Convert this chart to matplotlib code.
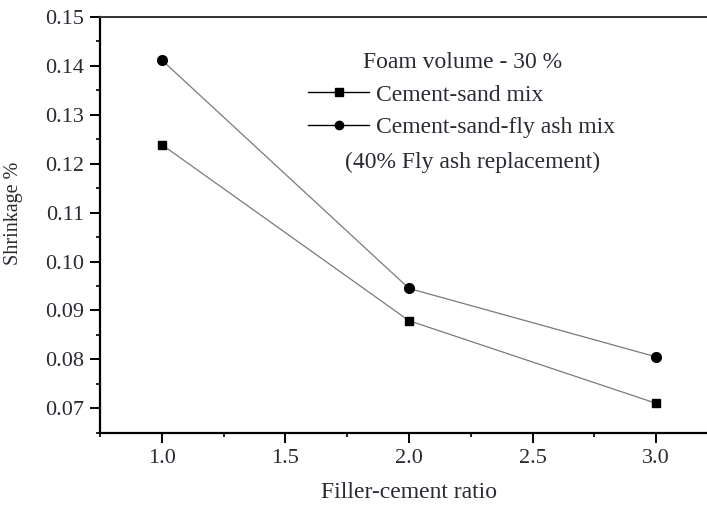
import matplotlib
matplotlib.use("Agg")
import matplotlib.pyplot as plt
from matplotlib.lines import Line2D
from matplotlib.ticker import MultipleLocator, FormatStrFormatter

ratio = [1.0, 2.0, 3.0]
cement_sand = [0.1239, 0.0879, 0.0710]
cement_sand_flyash = [0.1412, 0.0945, 0.0805]

label_cs = "Cement-sand mix"
label_fa = "Cement-sand-fly ash mix"
legend_title = "Foam volume - 30 %"
legend_note = "(40% Fly ash replacement)"
xlabel = "Filler-cement ratio"
ylabel = "Shrinkage %"

plt.rcParams['font.family'] = ['Liberation Serif', 'DejaVu Serif']

W, H = 707, 509
fig = plt.figure(figsize=(W / 100, H / 100), dpi=100)
left, right, top, bottom = 100, 718, 17, 432.7
ax = fig.add_axes([left / W, 1 - bottom / H, (right - left) / W, (bottom - top) / H])

line_col = '#7a7a7a'
ax.plot(ratio, cement_sand, color=line_col, lw=0.9, marker='s', ms=6.3,
        mfc='black', mec='black', zorder=3)
ax.plot(ratio, cement_sand_flyash, color=line_col, lw=0.9, marker='o', ms=7.0,
        mfc='black', mec='black', zorder=3)

ax.set_xlim(0.75, 3.25)
ax.set_ylim(0.065, 0.15)
ax.xaxis.set_major_locator(MultipleLocator(0.5))
ax.xaxis.set_minor_locator(MultipleLocator(0.25))
ax.yaxis.set_major_locator(MultipleLocator(0.01))
ax.yaxis.set_minor_locator(MultipleLocator(0.005))
ax.xaxis.set_major_formatter(FormatStrFormatter('%.1f'))
ax.yaxis.set_major_formatter(FormatStrFormatter('%.2f'))

for s in ['left', 'bottom']:
    ax.spines[s].set_linewidth(1.6)
ax.spines['top'].set_linewidth(1.4)
ax.spines['top'].set_color('#333333')
ax.spines['right'].set_visible(False)

ax.tick_params(which='major', direction='out', length=7.5, width=1.4,
               labelsize=16, pad=4, labelcolor='#2a2a33', top=False, right=False)
ax.tick_params(which='minor', direction='out', length=3, width=1.2, top=False, right=False)

def fx(px):
    return (px - left) / (right - left)
def fy(py):
    return 1 - (py - top) / (bottom - top)

ax.set_xlabel(xlabel, fontsize=17, labelpad=10, color='#2a2a33')
ax.set_ylabel(ylabel, fontsize=14.5, color='#2a2a33')
ax.yaxis.set_label_coords(fx(23), fy(213))

# legend
handles = [
    Line2D([], [], color='black', lw=1.0, marker='s', ms=5.5, mfc='black', mec='black'),
    Line2D([], [], color='black', lw=1.0, marker='o', ms=6, mfc='black', mec='black'),
]

ax.text(fx(463), fy(62), legend_title, transform=ax.transAxes, ha='center', va='center',
        fontsize=17, color='#2a2a33')
leg = ax.legend(handles, [label_cs, label_fa], loc='upper left',
                bbox_to_anchor=(fx(308), fy(84)), frameon=False, fontsize=17,
                handlelength=2.6, handletextpad=0.3, labelspacing=0.46,
                borderpad=0, borderaxespad=0)
for t in leg.get_texts():
    t.set_color('#2a2a33')
ax.text(fx(473), fy(162), legend_note, transform=ax.transAxes, ha='center', va='center',
        fontsize=17, color='#2a2a33')

fig.savefig('out.png', dpi=100)
